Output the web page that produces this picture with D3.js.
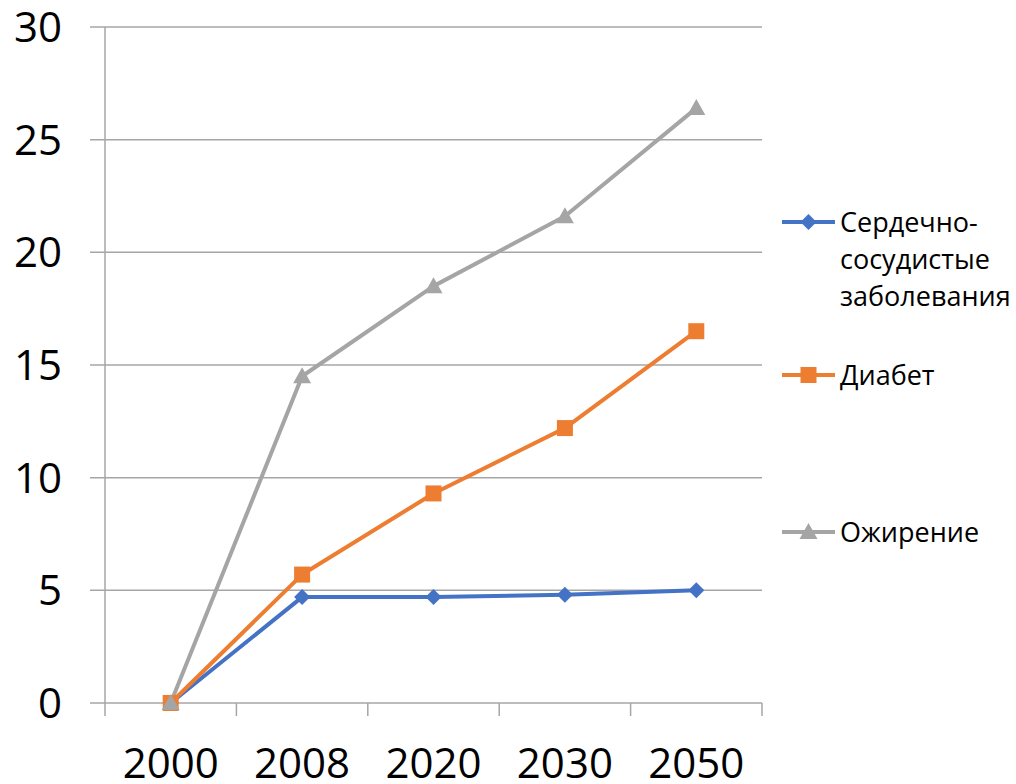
<!DOCTYPE html>
<html>
<head>
<meta charset="utf-8">
<script src="https://cdn.jsdelivr.net/npm/d3@7"></script>
<style>
  body { margin: 0; background: #fff; }
  svg text { font-family: "Open Sans", sans-serif; fill: #000; }
</style>
</head>
<body>
<div id="chart"></div>
<script>
// data
var years = ["2000", "2008", "2020", "2030", "2050"];
var cardio = [0, 4.7, 4.7, 4.8, 5.0];
var diabetes = [0, 5.7, 9.3, 12.2, 16.5];
var obesity = [0, 14.5, 18.5, 21.6, 26.4];
var yTicks = [0, 5, 10, 15, 20, 25, 30];
var seriesNames = ["Сердечно-сосудистые заболевания", "Диабет", "Ожирение"];

var series = [
  { name: seriesNames[0], values: cardio, color: "#4472C4", marker: "diamond",
    label: ["Сердечно-", "сосудистые", "заболевания"] },
  { name: seriesNames[1], values: diabetes, color: "#ED7D31", marker: "square",
    label: ["Диабет"] },
  { name: seriesNames[2], values: obesity, color: "#A5A5A5", marker: "triangle",
    label: ["Ожирение"] }
];

var W = 1016, H = 784;
var margin = { left: 105, top: 27, right: 254, bottom: 81 };
var width = W - margin.left - margin.right;
var height = H - margin.top - margin.bottom;

var svg = d3.select("#chart").append("svg")
  .attr("width", W).attr("height", H);
var g = svg.append("g")
  .attr("transform", "translate(" + margin.left + "," + margin.top + ")");

var x = d3.scaleBand().domain(years).range([0, width]);
var y = d3.scaleLinear().domain([0, 30]).range([height, 0]);

// gridlines + y ticks
g.append("g")
  .selectAll("line")
  .data(yTicks)
  .enter().append("line")
  .attr("x1", -15).attr("x2", width)
  .attr("y1", function (d) { return y(d); })
  .attr("y2", function (d) { return y(d); })
  .attr("stroke", "#a6a6a6").attr("stroke-width", 1.5);

g.append("g")
  .selectAll("text")
  .data(yTicks)
  .enter().append("text")
  .attr("x", -43)
  .attr("y", function (d) { return y(d); })
  .attr("dy", "0.36em")
  .attr("text-anchor", "end")
  .style("font-size", "42px")
  .text(function (d) { return d; });

// y axis line
g.append("line")
  .attr("x1", 0).attr("x2", 0).attr("y1", 0).attr("y2", height + 13)
  .attr("stroke", "#a6a6a6").attr("stroke-width", 1.5);

// x axis: category boundary ticks
var bounds = years.map(function (d) { return x(d); }).concat([width]);
g.append("g")
  .selectAll("line")
  .data(bounds.slice(1))
  .enter().append("line")
  .attr("x1", function (d) { return d; }).attr("x2", function (d) { return d; })
  .attr("y1", height).attr("y2", height + 13)
  .attr("stroke", "#a6a6a6").attr("stroke-width", 1.5);

g.append("g")
  .selectAll("text")
  .data(years)
  .enter().append("text")
  .attr("x", function (d) { return x(d) + x.bandwidth() / 2; })
  .attr("y", height + 75)
  .attr("text-anchor", "middle")
  .style("font-size", "42px")
  .text(function (d) { return d; });

function markerPath(type) {
  if (type === "diamond") return "M0,-8L8,0L0,8L-8,0Z";
  if (type === "square") return "M-8,-8H8V8H-8Z";
  return "M0,-9L9,7H-9Z";
}

var line = d3.line()
  .x(function (d, i) { return x(years[i]) + x.bandwidth() / 2; })
  .y(function (d) { return y(d); });

series.forEach(function (s) {
  g.append("path")
    .datum(s.values)
    .attr("d", line)
    .attr("fill", "none")
    .attr("stroke", s.color)
    .attr("stroke-width", 4)
    .attr("stroke-linejoin", "round");
});

series.forEach(function (s) {
  g.selectAll(".m-" + s.marker)
    .data(s.values)
    .enter().append("path")
    .attr("class", "m-" + s.marker)
    .attr("d", markerPath(s.marker))
    .attr("fill", s.color)
    .attr("transform", function (d, i) {
      return "translate(" + (x(years[i]) + x.bandwidth() / 2) + "," + y(d) + ")";
    });
});

// legend
var legendY = [222, 375, 532];
series.forEach(function (s, i) {
  var lg = svg.append("g").attr("transform", "translate(782," + legendY[i] + ")");
  lg.append("line").attr("x1", 0).attr("x2", 53).attr("y1", 0).attr("y2", 0)
    .attr("stroke", s.color).attr("stroke-width", 4);
  lg.append("path").attr("d", markerPath(s.marker))
    .attr("fill", s.color).attr("transform", "translate(26.5,0)");
  var t = lg.append("text").attr("x", 58).attr("y", 0)
    .style("font-size", "27px");
  s.label.forEach(function (l, j) {
    t.append("tspan").attr("x", 58).attr("dy", j === 0 ? "0.36em" : "37px").text(l);
  });
});
</script>
</body>
</html>
